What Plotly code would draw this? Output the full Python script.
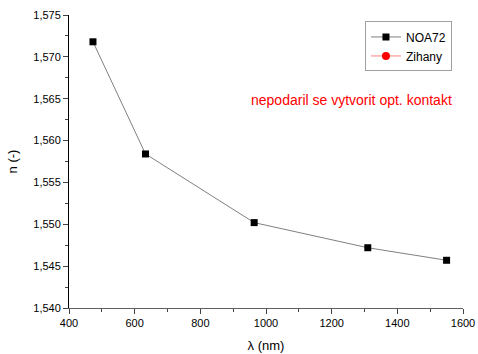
import plotly.graph_objects as go

wavelength = [473, 633, 964, 1310, 1550]
n_noa72 = [1.5718, 1.5584, 1.5502, 1.5472, 1.5457]
x_ticks = [400, 600, 800, 1000, 1200, 1400, 1600]
y_ticks = [1.540, 1.545, 1.550, 1.555, 1.560, 1.565, 1.570, 1.575]

fig = go.Figure()
fig.add_trace(go.Scatter(x=wavelength, y=n_noa72, mode="lines+markers", name="NOA72",
                         line=dict(color="#808080", width=1),
                         marker=dict(symbol="square", size=7, color="black")))
fig.add_trace(go.Scatter(x=[None], y=[None], mode="lines+markers", name="Zihany",
                         line=dict(color="#ff8080", width=1),
                         marker=dict(symbol="circle", size=8, color="red")))

fig.add_annotation(x=0.717, y=0.71, xref="paper", yref="paper", showarrow=False,
                   xanchor="center", yanchor="middle",
                   text="nepodaril se vytvorit opt. kontakt",
                   font=dict(color="red", size=14, family="Liberation Sans, Arial"))

fig.update_layout(
    width=478, height=354, margin=dict(l=69, r=15, t=15, b=46, autoexpand=False),
    paper_bgcolor="white", plot_bgcolor="white", separators=",.",
    font=dict(family="Liberation Sans, Arial", size=11, color="black"),
    legend=dict(x=0.972, y=0.978, xanchor="right", yanchor="top",
                bordercolor="#a0a0a0", borderwidth=1, bgcolor="white",
                font=dict(size=12), tracegroupgap=0, itemwidth=30),
    showlegend=True,
)
fig.update_xaxes(range=[400, 1600], tickvals=x_ticks, ticks="outside", ticklen=5,
                 showline=True, linecolor="#606060", linewidth=1, showgrid=False, zeroline=False,
                 minor=dict(ticks="outside", dtick=100, ticklen=3, tick0=400),
                 title=dict(text="λ (nm)", font=dict(size=13), standoff=12), automargin=False)
fig.update_yaxes(range=[1.540, 1.575], tickvals=y_ticks, tickformat=".3f", ticks="outside", ticklen=5,
                 showline=True, linecolor="black", linewidth=1, showgrid=False, zeroline=False,
                 minor=dict(ticks="outside", dtick=0.0025, ticklen=3, tick0=1.540),
                 title=dict(text="n (-)", font=dict(size=13), standoff=12), automargin=False)

fig.write_html("out.html", post_script="document.body.style.margin='0';document.body.style.overflow='hidden';")
